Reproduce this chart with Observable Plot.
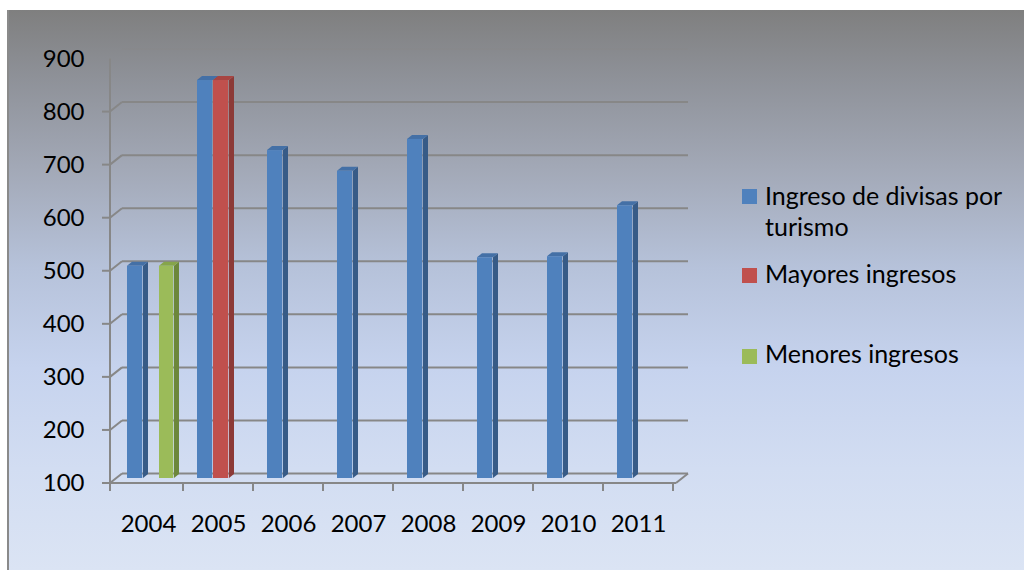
<!DOCTYPE html>
<html>
<head>
<meta charset="utf-8">
<script src="https://cdn.jsdelivr.net/npm/d3@7"></script>
<script src="https://cdn.jsdelivr.net/npm/@observablehq/plot@0.6"></script>
<style>
  html, body { margin: 0; padding: 0; background: #ffffff; width: 1024px; height: 570px; overflow: hidden; }
  #bg { position: absolute; left: 8px; top: 10px; width: 1016px; height: 560px;
        background: linear-gradient(to bottom, #7f7f7f 0%, #8e9198 12%, #a2a8b6 28%, #b6c2da 46%, #c6d3ee 64%, #d2ddf2 82%, #dbe4f4 100%); }
  #edge { position: absolute; left: 7px; top: 10px; width: 2px; height: 560px; background: #8a8a8a; }
  #chart { position: absolute; left: 8px; top: 10px; }
  .leg { position: absolute; font-family: Lato, "Open Sans", sans-serif; font-size: 25px; color: #000; line-height: 31px; white-space: nowrap; }
  .sw { position: absolute; width: 15px; height: 15px; }
</style>
</head>
<body>
<div id="bg"></div>
<div id="edge"></div>
<div id="chart"></div>
<div id="legend"></div>
<script>
// ---- data ----
const years = ["2004", "2005", "2006", "2007", "2008", "2009", "2010", "2011"];
const ingreso = [500, 850, 718, 679, 739, 516, 518, 614];
const mayores = [null, 850, null, null, null, null, null, null];
const menores = [500, null, null, null, null, null, null, null];
const yTicks = [100, 200, 300, 400, 500, 600, 700, 800, 900];
const seriesNames = [["Ingreso de divisas por", "turismo"], ["Mayores ingresos"], ["Menores ingresos"]];
const seriesValues = [ingreso, mayores, menores];

// ---- styles ----
const W = 1016, H = 560, ML = 102, MR = 348, MT = 43.5, MB = 92;
const FONT = "Lato, 'Open Sans', sans-serif";
const FS = 24;
const GRID = "#878787";
const styles = [
  {front: "#4f81bd", side: "#375b87", top: "#4470a6", offset: 14, width: 16},
  {front: "#c0504d", side: "#8c3a37", top: "#a84542", offset: 30, width: 16},
  {front: "#9bbb59", side: "#6c873b", top: "#86a54a", offset: 46, width: 15}
];
const bw = (W - ML - MR) / years.length;
const BAR_DX = 5, BAR_DY = -4;   // bar depth
const WALL_DX = 12, FRONT = 5, BACK = -4.5; // chart depth
const baseline = yTicks[0];

const rows = seriesValues.map((vals, s) =>
  years.map((year, i) => ({year, value: vals[i], s})).filter(d => d.value != null));

function walls(index, scales, values, dims) {
  const x = scales.x, y = scales.y;
  const left = dims.marginLeft, right = dims.width - dims.marginRight;
  const g = d3.create("svg:g").attr("fill", "none").attr("stroke", GRID).attr("stroke-width", 2);
  const top = yTicks[yTicks.length - 1];
  for (const v of yTicks) {
    const yf = y(v) + FRONT, yb = y(v) + BACK;
    if (v < top) {
      g.append("line").attr("x1", left - 8).attr("x2", left).attr("y1", yf).attr("y2", yf);
      g.append("line").attr("x1", left).attr("x2", left + WALL_DX).attr("y1", yf).attr("y2", yb);
    }
    g.append("line").attr("x1", left + WALL_DX).attr("x2", right + WALL_DX).attr("y1", yb).attr("y2", yb)
      .attr("stroke-opacity", v === top ? 0.25 : 1);
  }
  const y0 = y(baseline) + FRONT;
  g.append("line").attr("x1", left).attr("x2", left).attr("y1", y(top) + FRONT).attr("y2", y0 + 8);
  g.append("line").attr("x1", left - 8).attr("x2", right).attr("y1", y0).attr("y2", y0);
  g.append("line").attr("x1", right).attr("x2", right + WALL_DX).attr("y1", y0).attr("y2", y(baseline) + BACK);
  const band = x.bandwidth ? x.bandwidth() : bw;
  years.forEach(yr => {
    const xx = x(yr) + band;
    g.append("line").attr("x1", xx).attr("x2", xx).attr("y1", y0).attr("y2", y0 + 8);
  });
  return g.node();
}

function depth(s) {
  return (index, scales) => {
    const x = scales.x, y = scales.y;
    const st = styles[s];
    const g = d3.create("svg:g");
    for (const d of rows[s]) {
      const x0 = x(d.year) + st.offset, x1 = x0 + st.width;
      const yt = y(d.value), yb = y(baseline);
      g.append("polygon").attr("fill", st.side)
        .attr("points", [[x1, yt], [x1 + BAR_DX, yt + BAR_DY], [x1 + BAR_DX, yb + BAR_DY], [x1, yb]].join(" "));
      g.append("polygon").attr("fill", st.top)
        .attr("points", [[x0, yt], [x0 + BAR_DX, yt + BAR_DY], [x1 + BAR_DX, yt + BAR_DY], [x1, yt]].join(" "));
    }
    return g.node();
  };
}

const marks = [walls];
styles.forEach((st, s) => {
  marks.push(depth(s));
  marks.push(Plot.barY(rows[s], {
    x: "year", y1: () => baseline, y2: "value", fill: st.front,
    insetLeft: st.offset, insetRight: bw - st.offset - st.width
  }));
});
marks.push(Plot.text(yTicks, {
  y: d => d, text: d => String(d), frameAnchor: "left", textAnchor: "end",
  dx: -26, dy: FRONT, fontSize: FS, fontFamily: FONT, fill: "#000"
}));
marks.push(Plot.text(years, {
  x: d => d, text: d => d, frameAnchor: "bottom", dy: 46, lineAnchor: "middle",
  fontSize: FS, fontFamily: FONT, fill: "#000"
}));

const plot = Plot.plot({
  width: W, height: H,
  marginLeft: ML, marginRight: MR, marginTop: MT, marginBottom: MB,
  style: {background: "transparent", overflow: "visible"},
  x: {type: "band", domain: years, padding: 0, axis: null},
  y: {domain: [yTicks[0], yTicks[yTicks.length - 1]], axis: null},
  marks
});
document.getElementById("chart").append(plot);

// ---- legend ----
const legendPos = [
  {sw: [742, 189], text: [765, 180]},
  {sw: [742, 268], text: [765, 258]},
  {sw: [742, 349], text: [765, 338]}
];
const legend = document.getElementById("legend");
seriesNames.forEach((lines, i) => {
  const sw = document.createElement("div");
  sw.className = "sw";
  sw.style.left = legendPos[i].sw[0] + "px";
  sw.style.top = legendPos[i].sw[1] + "px";
  sw.style.background = styles[i].front;
  legend.append(sw);
  const t = document.createElement("div");
  t.className = "leg";
  t.style.left = legendPos[i].text[0] + "px";
  t.style.top = legendPos[i].text[1] + "px";
  lines.forEach((line, j) => {
    if (j) t.append(document.createElement("br"));
    t.append(document.createTextNode(line));
  });
  legend.append(t);
});
</script>
</body>
</html>
